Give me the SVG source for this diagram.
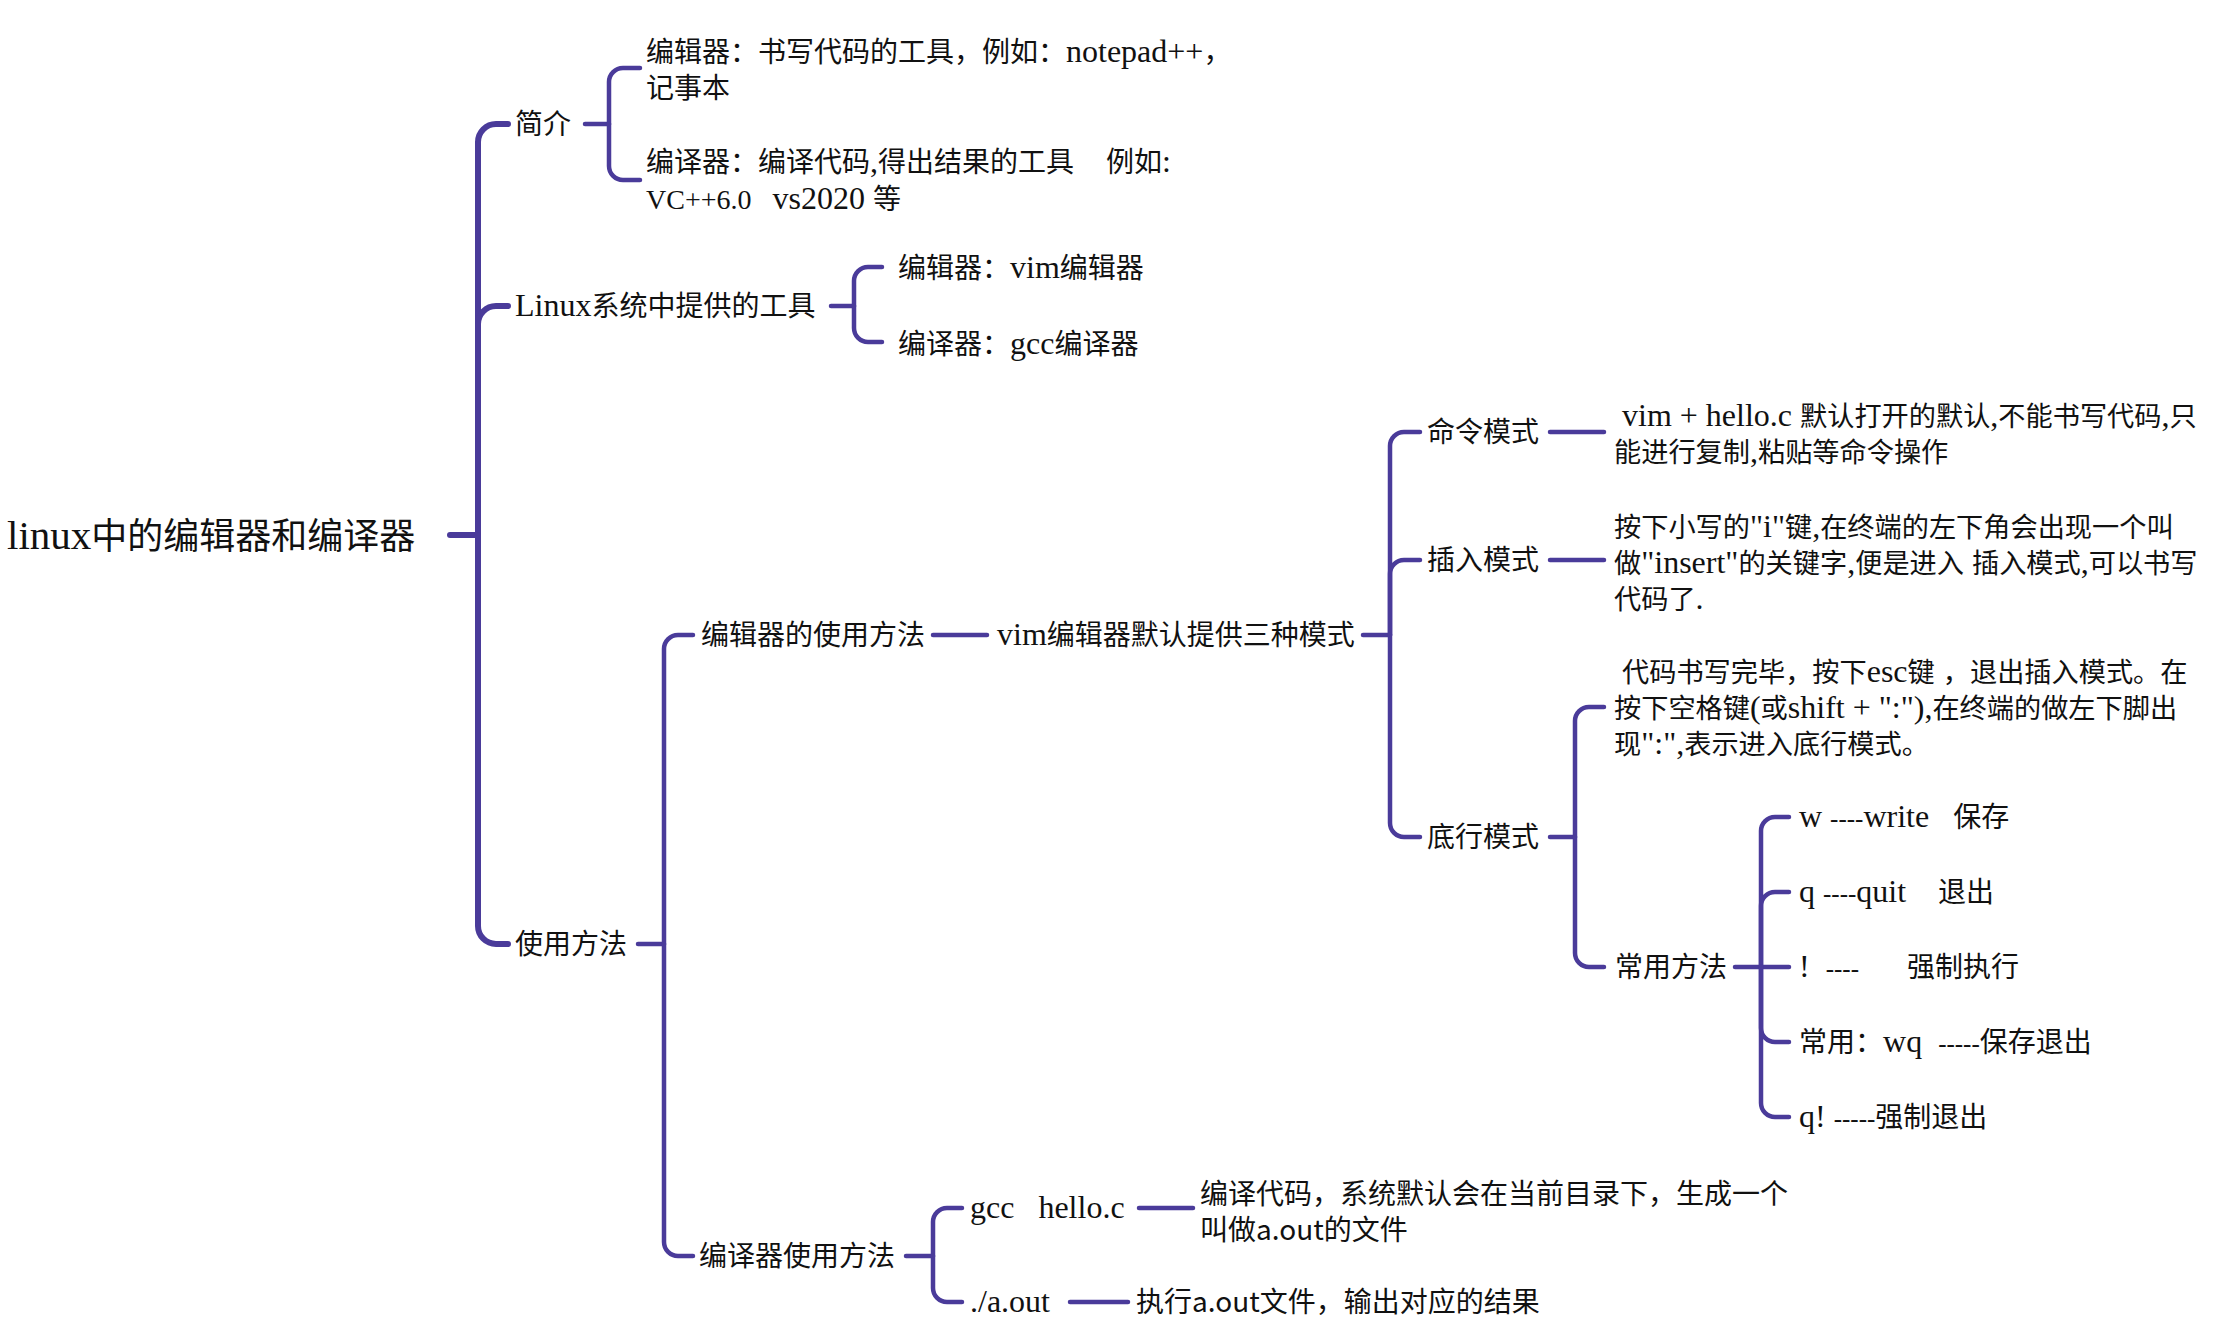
<svg xmlns="http://www.w3.org/2000/svg" width="2216" height="1337" viewBox="0 0 2216 1337">
<style>
text{font-family:"Noto Sans CJK SC","Noto Sans",sans-serif;font-size:28px;fill:#111;white-space:pre}
.e{font-family:"Liberation Serif","Noto Sans CJK SC",serif;font-size:32px}
.e28{font-family:"Liberation Serif",serif;font-size:28px}
.h{font-family:"Liberation Serif",serif;font-size:25px}
.d text{font-size:27.2px}
.root{font-size:36px}
.er{font-family:"Liberation Serif",serif;font-size:41px}
.c path{fill:none;stroke:#4a3b9a;stroke-linecap:round;stroke-linejoin:round}
.c .m{stroke-width:6}
.c .s{stroke-width:4.5}
</style>
<rect width="2216" height="1337" fill="#fff"/>
<g class="c" id="connectors">
<path class="m" d="M450,535 H478"/>
<path class="m" d="M478,535 V142 A18,18 0 0 1 496,124 H508"/>
<path class="m" d="M478,535 V324 A18,18 0 0 1 496,306 H508"/>
<path class="m" d="M478,535 V926 A18,18 0 0 0 496,944 H508"/>
<path class="s" d="M585,124 H609"/>
<path class="s" d="M609,124 V82 A14,14 0 0 1 623,68 H640"/>
<path class="s" d="M609,124 V166 A14,14 0 0 0 623,180 H640"/>
<path class="s" d="M831,306 H854"/>
<path class="s" d="M854,306 V281 A14,14 0 0 1 868,267 H882"/>
<path class="s" d="M854,306 V328 A14,14 0 0 0 868,342 H882"/>
<path class="s" d="M638,944 H664"/>
<path class="s" d="M664,944 V649 A14,14 0 0 1 678,635 H693"/>
<path class="s" d="M664,944 V1242 A14,14 0 0 0 678,1256 H693"/>
<path class="s" d="M933,635 H987"/>
<path class="s" d="M1363,635 H1390"/>
<path class="s" d="M1390,635 V446 A14,14 0 0 1 1404,432 H1420"/>
<path class="s" d="M1390,635 V574 A14,14 0 0 1 1404,560 H1420"/>
<path class="s" d="M1390,635 V823 A14,14 0 0 0 1404,837 H1420"/>
<path class="s" d="M1550,432 H1604"/>
<path class="s" d="M1550,560 H1604"/>
<path class="s" d="M1550,837 H1575"/>
<path class="s" d="M1575,837 V721 A14,14 0 0 1 1589,707 H1604"/>
<path class="s" d="M1575,837 V953 A14,14 0 0 0 1589,967 H1604"/>
<path class="s" d="M1735,967 H1761"/>
<path class="s" d="M1761,967 V831 A14,14 0 0 1 1775,817 H1789"/>
<path class="s" d="M1761,967 V906 A14,14 0 0 1 1775,892 H1789"/>
<path class="s" d="M1761,967 H1789"/>
<path class="s" d="M1761,967 V1028 A14,14 0 0 0 1775,1042 H1789"/>
<path class="s" d="M1761,967 V1103 A14,14 0 0 0 1775,1117 H1789"/>
<path class="s" d="M906,1256 H933"/>
<path class="s" d="M933,1256 V1222 A14,14 0 0 1 947,1208 H962"/>
<path class="s" d="M933,1256 V1288 A14,14 0 0 0 947,1302 H962"/>
<path class="s" d="M1139,1208 H1193"/>
<path class="s" d="M1070,1302 H1128"/>
</g>
<g id="root"><text class="root" x="7" y="549"><tspan class="er">linux</tspan>中的编辑器和编译器</text></g>
<g id="n-intro"><text x="515" y="134">简介</text></g>
<g id="n-intro-editor"><text x="646" y="62">编辑器：书写代码的工具，例如：<tspan class="e">notepad++</tspan>，</text><text x="646" y="98">记事本</text></g>
<g id="n-intro-compiler"><text x="646" y="172">编译器：编译代码<tspan class="e">,</tspan>得出结果的工具<tspan class="e">    </tspan>例如<tspan class="e">:</tspan></text><text x="646" y="209"><tspan class="e28">VC++6.0   </tspan><tspan class="e">vs2020 </tspan>等</text></g>
<g id="n-linux"><text x="515" y="316"><tspan class="e">Linux</tspan>系统中提供的工具</text></g>
<g id="n-linux-vim"><text x="898" y="278">编辑器：<tspan class="e">vim</tspan>编辑器</text></g>
<g id="n-linux-gcc"><text x="898" y="354">编译器：<tspan class="e">gcc</tspan>编译器</text></g>
<g id="n-usage"><text x="515" y="954">使用方法</text></g>
<g id="n-editor-usage"><text x="701" y="645">编辑器的使用方法</text></g>
<g id="n-vim-modes"><text x="997" y="645"><tspan class="e">vim</tspan>编辑器默认提供三种模式</text></g>
<g id="n-cmd"><text x="1427" y="442">命令模式</text></g>
<g id="n-cmd-desc" class="d"><text x="1614" y="426"><tspan class="e"> vim + hello.c </tspan>默认打开的默认<tspan class="e">,</tspan>不能书写代码<tspan class="e">,</tspan>只</text><text x="1614" y="462">能进行复制<tspan class="e">,</tspan>粘贴等命令操作</text></g>
<g id="n-insert"><text x="1427" y="570">插入模式</text></g>
<g id="n-insert-desc" class="d"><text x="1614" y="537">按下小写的<tspan class="e">"i"</tspan>键<tspan class="e">,</tspan>在终端的左下角会出现一个叫</text><text x="1614" y="573">做<tspan class="e">"insert"</tspan>的关键字<tspan class="e">,</tspan>便是进入<tspan class="e"> </tspan>插入模式<tspan class="e">,</tspan>可以书写</text><text x="1614" y="609">代码了<tspan class="e">.</tspan></text></g>
<g id="n-lastline"><text x="1427" y="847">底行模式</text></g>
<g id="n-lastline-desc" class="d"><text x="1614" y="682"><tspan class="e"> </tspan>代码书写完毕，按下<tspan class="e">esc</tspan>键<tspan class="e"> </tspan>，退出插入模式。在</text><text x="1614" y="718">按下空格键<tspan class="e">(</tspan>或<tspan class="e">shift + ":"),</tspan>在终端的做左下脚出</text><text x="1614" y="754">现<tspan class="e">":",</tspan>表示进入底行模式。</text></g>
<g id="n-common"><text x="1615" y="977">常用方法</text></g>
<g id="n-w"><text x="1799" y="827"><tspan class="e">w </tspan><tspan class="h">----</tspan><tspan class="e">write   </tspan>保存</text></g>
<g id="n-q"><text x="1799" y="902"><tspan class="e">q </tspan><tspan class="h">----</tspan><tspan class="e">quit    </tspan>退出</text></g>
<g id="n-bang"><text x="1799" y="977"><tspan class="e">!  </tspan><tspan class="h">----</tspan><tspan class="e">      </tspan>强制执行</text></g>
<g id="n-wq"><text x="1799" y="1052">常用：<tspan class="e">wq  </tspan><tspan class="h">-----</tspan>保存退出</text></g>
<g id="n-qbang"><text x="1799" y="1127"><tspan class="e">q! </tspan><tspan class="h">-----</tspan>强制退出</text></g>
<g id="n-compiler-usage"><text x="699" y="1266">编译器使用方法</text></g>
<g id="n-gcc"><text x="970" y="1218"><tspan class="e">gcc   hello.c</tspan></text></g>
<g id="n-gcc-desc"><text x="1200" y="1204">编译代码，系统默认会在当前目录下，生成一个</text><text x="1200" y="1240">叫做a.out的文件</text></g>
<g id="n-aout"><text x="970" y="1312"><tspan class="e">./a.out</tspan></text></g>
<g id="n-aout-desc"><text x="1136" y="1312">执行a.out文件，输出对应的结果</text></g>
</svg>
